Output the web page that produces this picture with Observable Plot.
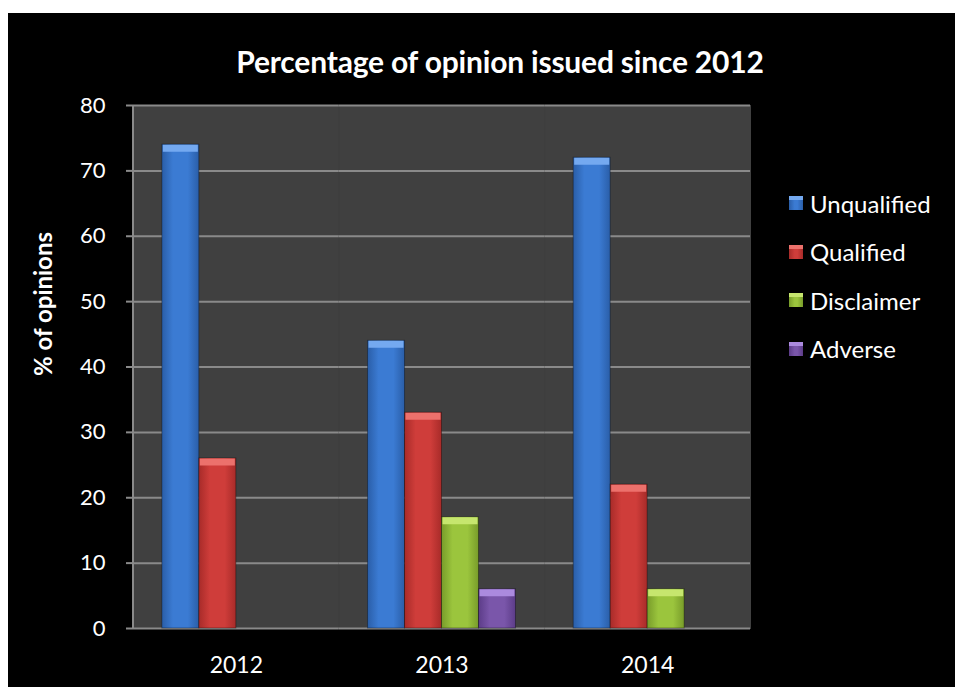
<!DOCTYPE html>
<html>
<head>
<meta charset="utf-8">
<script src="https://cdn.jsdelivr.net/npm/d3@7"></script>
<script src="https://cdn.jsdelivr.net/npm/@observablehq/plot@0.6"></script>
<style>
  html, body { margin: 0; padding: 0; background: #ffffff; }
  #wrap { position: relative; width: 955px; height: 687px; overflow: hidden; font-family: Lato, "Open Sans", sans-serif; }
  #bg { position: absolute; left: 8px; top: 13px; right: 0; bottom: 0; background: #000; }
  #title { position: absolute; left: 200px; width: 600px; top: 43px; text-align: center; color: #fff; font-weight: bold; font-size: 30px; letter-spacing: -0.2px; white-space: nowrap; }
  #ylabel { position: absolute; left: 42px; top: 304px; transform: translate(-50%, -50%) rotate(-90deg); color: #fff; font-weight: bold; font-size: 24px; white-space: nowrap; }
  #chart { position: absolute; left: 0; top: 0; }
  #chart svg g[aria-label='y-axis tick label'] text { font-size: 22px; }
  #chart svg g[aria-label='fx-axis tick label'] text { font-size: 23px; }
  #legend { position: absolute; left: 789px; top: 179px; color: #fff; font-size: 24px; }
  .li { display: flex; align-items: center; height: 48.5px; }
  .sw { width: 14px; height: 14px; margin-right: 7px; box-sizing: border-box; border-top: 4px solid; }
</style>
</head>
<body>
<div id="wrap">
  <div id="bg"></div>
  <div id="chart"></div>
  <div id="title">Percentage of opinion issued since 2012</div>
  <div id="ylabel">% of opinions</div>
  <div id="legend"></div>
</div>
<script>
const years = ["2012", "2013", "2014"];
const series = ["Unqualified", "Qualified", "Disclaimer", "Adverse"];
const unqualified = [74, 44, 72];
const qualified = [26, 33, 22];
const disclaimer = [0, 17, 6];
const adverse = [0, 6, 0];
const yTicks = [0, 10, 20, 30, 40, 50, 60, 70, 80];

const baseColors = ["#3b7bd3", "#cf3d3a", "#9bc53d", "#7a56aa"];
const darkColors = ["#2a5ea8", "#a82b29", "#789c2a", "#5c3c88"];
const lightColors = ["#74a9f0", "#ec716c", "#c6e66e", "#ab8ade"];

const valuesBySeries = [unqualified, qualified, disclaimer, adverse];
const data = [];
years.forEach((yr, i) => {
  series.forEach((s, j) => {
    data.push({ year: yr, series: s, value: valuesBySeries[j][i] });
  });
});

const gradIds = series.map((s, j) => "grad" + j);

const chart = Plot.plot({
  width: 955,
  height: 687,
  marginLeft: 133,
  marginRight: 205,
  marginTop: 105,
  marginBottom: 59,
  style: { background: "transparent", color: "#fff", fontFamily: "Lato, 'Open Sans', sans-serif", fontSize: "21px" },
  fx: { domain: years, padding: 0, round: false, axis: "bottom", label: null, tickSize: 0, tickPadding: 28 },
  x: { domain: series, paddingInner: 0, paddingOuter: 0.78, round: false, axis: null },
  y: { domain: [0, 80], ticks: yTicks, label: null, tickSize: 7, tickPadding: 21 },
  color: { domain: series, range: gradIds.map(id => `url(#${id})`) },
  marks: [
    Plot.frame({ fill: "#404040", stroke: "#404040", strokeWidth: 1 }),
    Plot.ruleY(yTicks, { stroke: "#8a8a8a", strokeWidth: 2 }),
    Plot.barY(data, { fx: "year", x: "series", y: "value", fill: "series", stroke: "rgba(0,0,0,0.35)", strokeWidth: 1 }),
    Plot.tickY(data.filter(d => d.value > 0), {
      fx: "year", x: "series", y: "value",
      stroke: d => lightColors[series.indexOf(d.series)],
      strokeWidth: 7, dy: 3.5, insetLeft: 1, insetRight: 1
    })
  ]
});

// gradient definitions
const svg = d3.select(chart);
const defs = svg.insert("defs", ":first-child");
series.forEach((s, j) => {
  const g = defs.append("linearGradient").attr("id", gradIds[j]).attr("x1", 0).attr("x2", 1).attr("y1", 0).attr("y2", 0);
  g.append("stop").attr("offset", "0%").attr("stop-color", darkColors[j]);
  g.append("stop").attr("offset", "30%").attr("stop-color", baseColors[j]);
  g.append("stop").attr("offset", "70%").attr("stop-color", baseColors[j]);
  g.append("stop").attr("offset", "100%").attr("stop-color", darkColors[j]);
});

// left axis line drawn from the library's y scale
const ys = chart.scale("y");
svg.append("line")
  .attr("x1", 133).attr("x2", 133)
  .attr("y1", ys.range[0]).attr("y2", ys.range[1])
  .attr("stroke", "#8a8a8a").attr("stroke-width", 2);
svg.selectAll("g[aria-label='y-axis tick'], g[aria-label='y-axis tick'] path")
  .attr("stroke", "#8a8a8a").attr("stroke-width", 2);

document.getElementById("chart").appendChild(chart);

// legend
const legend = document.getElementById("legend");
series.forEach((s, j) => {
  const row = document.createElement("div");
  row.className = "li";
  const sw = document.createElement("div");
  sw.className = "sw";
  sw.style.background = `linear-gradient(90deg, ${darkColors[j]}, ${baseColors[j]} 40%, ${baseColors[j]} 60%, ${darkColors[j]})`;
  sw.style.borderTopColor = lightColors[j];
  const t = document.createElement("span");
  t.textContent = s;
  row.appendChild(sw);
  row.appendChild(t);
  legend.appendChild(row);
});
</script>
</body>
</html>
